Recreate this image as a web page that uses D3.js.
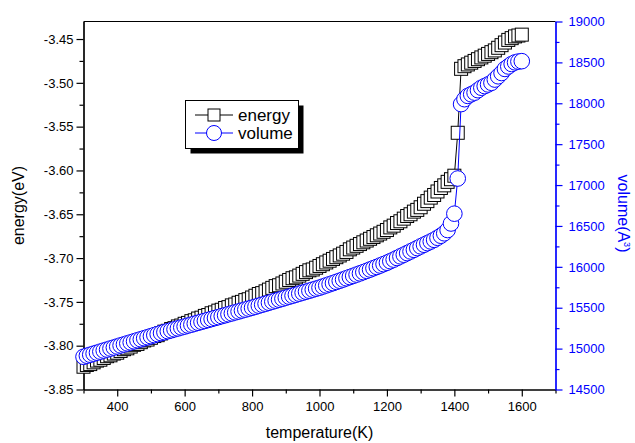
<!DOCTYPE html>
<html>
<head>
<meta charset="utf-8">
<script src="https://cdn.jsdelivr.net/npm/d3@7"></script>
<style>
  body { margin: 0; background: #fff; }
  text { font-family: "Liberation Sans", Arial, sans-serif; }
</style>
</head>
<body>
<div id="chart"></div>
<script>
// temperature (K)
var temperature = [
  300, 310, 320, 330, 340, 350, 360, 370, 380, 390,
  400, 410, 420, 430, 440, 450, 460, 470, 480, 490,
  500, 510, 520, 530, 540, 550, 560, 570, 580, 590,
  600, 610, 620, 630, 640, 650, 660, 670, 680, 690,
  700, 710, 720, 730, 740, 750, 760, 770, 780, 790,
  800, 810, 820, 830, 840, 850, 860, 870, 880, 890,
  900, 910, 920, 930, 940, 950, 960, 970, 980, 990,
  1000, 1010, 1020, 1030, 1040, 1050, 1060, 1070, 1080, 1090,
  1100, 1110, 1120, 1130, 1140, 1150, 1160, 1170, 1180, 1190,
  1200, 1210, 1220, 1230, 1240, 1250, 1260, 1270, 1280, 1290,
  1300, 1310, 1320, 1330, 1340, 1350, 1360, 1370, 1380, 1390,
  1400, 1410, 1420, 1430, 1440, 1450, 1460, 1470, 1480, 1490,
  1500, 1510, 1520, 1530, 1540, 1550, 1560, 1570, 1580, 1590,
  1600
];

// energy (eV)
var energy = [
  -3.824, -3.822, -3.821, -3.819, -3.817, -3.816, -3.814, -3.812, -3.811, -3.809,
  -3.808, -3.806, -3.804, -3.803, -3.801, -3.799, -3.798, -3.796, -3.794, -3.793,
  -3.791, -3.789, -3.788, -3.786, -3.784, -3.783, -3.781, -3.780, -3.778, -3.777,
  -3.775, -3.774, -3.772, -3.771, -3.769, -3.768, -3.766, -3.765, -3.763, -3.762,
  -3.760, -3.759, -3.757, -3.756, -3.754, -3.753, -3.751, -3.750, -3.748, -3.747,
  -3.745, -3.743, -3.741, -3.740, -3.738, -3.736, -3.734, -3.732, -3.731, -3.729,
  -3.727, -3.725, -3.723, -3.722, -3.720, -3.718, -3.716, -3.714, -3.713, -3.711,
  -3.709, -3.707, -3.705, -3.703, -3.701, -3.699, -3.697, -3.695, -3.693, -3.690,
  -3.688, -3.686, -3.684, -3.682, -3.680, -3.678, -3.676, -3.674, -3.672, -3.670,
  -3.668, -3.665, -3.663, -3.660, -3.658, -3.655, -3.652, -3.650, -3.647, -3.645,
  -3.642, -3.638, -3.635, -3.631, -3.628, -3.624, -3.620, -3.617, -3.613, -3.610,
  -3.606, -3.557, -3.484, -3.481, -3.479, -3.477, -3.475, -3.473, -3.471, -3.469,
  -3.467, -3.465, -3.463, -3.460, -3.457, -3.454, -3.451, -3.449, -3.447, -3.446,
  -3.445
];

// volume (A^3)
var volume = [
  14900, 14913, 14925, 14938, 14950, 14963, 14976, 14988, 15001, 15013,
  15026, 15039, 15051, 15064, 15076, 15089, 15102, 15114, 15127, 15139,
  15152, 15165, 15177, 15190, 15201, 15213, 15224, 15236, 15247, 15259,
  15270, 15282, 15293, 15305, 15316, 15328, 15339, 15351, 15362, 15374,
  15385, 15397, 15408, 15420, 15431, 15443, 15454, 15466, 15477, 15489,
  15500, 15512, 15525, 15537, 15549, 15561, 15574, 15586, 15598, 15610,
  15623, 15635, 15647, 15659, 15672, 15684, 15696, 15708, 15721, 15733,
  15745, 15759, 15773, 15787, 15801, 15816, 15830, 15845, 15860, 15875,
  15890, 15905, 15920, 15935, 15951, 15967, 15983, 15999, 16016, 16033,
  16050, 16069, 16088, 16108, 16128, 16148, 16168, 16188, 16208, 16229,
  16250, 16270, 16290, 16310, 16330, 16355, 16380, 16410, 16450, 16530,
  16650, 17080, 17990, 18050, 18090, 18110, 18130, 18160, 18190, 18210,
  18230, 18250, 18290, 18330, 18370, 18420, 18450, 18480, 18500, 18510,
  18515
];

var tempTicks = [400, 600, 800, 1000, 1200, 1400, 1600];
var tempMinor = [300, 500, 700, 900, 1100, 1300, 1500, 1700];
var energyTicks = [-3.85, -3.80, -3.75, -3.70, -3.65, -3.60, -3.55, -3.50, -3.45];
var energyMinor = [-3.825, -3.775, -3.725, -3.675, -3.625, -3.575, -3.525, -3.475];
var volumeTicks = [14500, 15000, 15500, 16000, 16500, 17000, 17500, 18000, 18500, 19000];
var volumeMinor = [14750, 15250, 15750, 16250, 16750, 17250, 17750, 18250, 18750];

var W = 635, H = 443;
// plot frame (pixels)
var pLeft = 83.5, pRight = 555.5, pTop = 21.5, pBottom = 389.5;
var blue = "#0000ff";

var svg = d3.select("#chart").append("svg")
  .attr("width", W)
  .attr("height", H);

var x = d3.scaleLinear().domain([300, 1700]).range([pLeft, pRight]);
var yE = d3.scaleLinear().domain([-3.85, -3.43]).range([pBottom, pTop]);
var yV = d3.scaleLinear().domain([14500, 19000]).range([pBottom, pTop]);

// top frame line
svg.append("line")
  .attr("x1", pLeft).attr("x2", pRight)
  .attr("y1", pTop).attr("y2", pTop)
  .attr("stroke", "#000").attr("stroke-width", 1.2);

// axes
function styleAxis(g, color) {
  g.selectAll("path").attr("stroke", color).attr("stroke-width", 1.2);
  g.selectAll("line").attr("stroke", color).attr("stroke-width", 1.2);
  g.selectAll("text")
    .attr("fill", color)
    .style("font-size", "13px");
}

var xAxis = svg.append("g")
  .attr("transform", "translate(0," + pBottom + ")")
  .call(d3.axisBottom(x).tickValues(tempTicks).tickSize(7).tickSizeOuter(0).tickPadding(5)
    .tickFormat(d3.format("d")));
styleAxis(xAxis, "#000");
var xMinor = svg.append("g")
  .attr("transform", "translate(0," + pBottom + ")")
  .call(d3.axisBottom(x).tickValues(tempMinor).tickSize(4).tickSizeOuter(0).tickFormat(""));
styleAxis(xMinor, "#000");

var yAxis = svg.append("g")
  .attr("transform", "translate(" + pLeft + ",0)")
  .call(d3.axisLeft(yE).tickValues(energyTicks).tickSize(7).tickSizeOuter(0).tickPadding(3)
    .tickFormat(function(d) { return d.toFixed(2); }));
styleAxis(yAxis, "#000");
var yMinor = svg.append("g")
  .attr("transform", "translate(" + pLeft + ",0)")
  .call(d3.axisLeft(yE).tickValues(energyMinor).tickSize(4).tickSizeOuter(0).tickFormat(""));
styleAxis(yMinor, "#000");

var y2Axis = svg.append("g")
  .attr("transform", "translate(" + pRight + ",0)")
  .call(d3.axisRight(yV).tickValues(volumeTicks).tickSize(7).tickSizeOuter(0).tickPadding(6)
    .tickFormat(d3.format("d")));
styleAxis(y2Axis, blue);
var y2Minor = svg.append("g")
  .attr("transform", "translate(" + pRight + ",0)")
  .call(d3.axisRight(yV).tickValues(volumeMinor).tickSize(4).tickSizeOuter(0).tickFormat(""));
styleAxis(y2Minor, blue);

// axis titles
svg.append("text")
  .attr("x", (pLeft + pRight) / 2)
  .attr("y", 438)
  .attr("text-anchor", "middle")
  .style("font-size", "16px")
  .text("temperature(K)");

svg.append("text")
  .attr("transform", "translate(24," + ((pTop + pBottom) / 2) + ") rotate(-90)")
  .attr("text-anchor", "middle")
  .style("font-size", "16px")
  .text("energy(eV)");

var vt = svg.append("text")
  .attr("transform", "translate(618," + ((pTop + pBottom) / 2 + 8) + ") rotate(90)")
  .attr("text-anchor", "middle")
  .attr("fill", blue)
  .style("font-size", "16px");
vt.append("tspan").text("volume(A");
vt.append("tspan").attr("dy", -6).style("font-size", "9px").text("3");
vt.append("tspan").attr("dy", 6).text(")");

var pts = temperature.map(function(t, i) {
  return { t: t, e: energy[i], v: volume[i] };
});

// energy series
svg.append("path")
  .datum(pts)
  .attr("fill", "none")
  .attr("stroke", "#000")
  .attr("stroke-width", 1)
  .attr("d", d3.line().x(function(d) { return x(d.t); }).y(function(d) { return yE(d.e); }));

var sq = 13;
svg.append("g").selectAll("rect")
  .data(pts)
  .enter()
  .append("rect")
  .attr("x", function(d) { return x(d.t) - sq / 2; })
  .attr("y", function(d) { return yE(d.e) - sq / 2; })
  .attr("width", sq)
  .attr("height", sq)
  .attr("fill", "#fff")
  .attr("stroke", "#000")
  .attr("stroke-width", 1);

// volume series
svg.append("path")
  .datum(pts)
  .attr("fill", "none")
  .attr("stroke", blue)
  .attr("stroke-width", 1)
  .attr("d", d3.line().x(function(d) { return x(d.t); }).y(function(d) { return yV(d.v); }));

svg.append("g").selectAll("circle")
  .data(pts)
  .enter()
  .append("circle")
  .attr("cx", function(d) { return x(d.t); })
  .attr("cy", function(d) { return yV(d.v); })
  .attr("r", 7.8)
  .attr("fill", "#fff")
  .attr("stroke", blue)
  .attr("stroke-width", 1);

// legend
var lg = svg.append("g");
lg.append("rect")
  .attr("x", 190.5).attr("y", 105.5)
  .attr("width", 113).attr("height", 48)
  .attr("fill", "#000");
lg.append("rect")
  .attr("x", 185.5).attr("y", 100.5)
  .attr("width", 113).attr("height", 48)
  .attr("fill", "#fff")
  .attr("stroke", "#000")
  .attr("stroke-width", 1);

var legendItems = [
  { name: "energy", color: "#000", shape: "square", y: 115 },
  { name: "volume", color: blue, shape: "circle", y: 133 }
];
legendItems.forEach(function(it) {
  lg.append("line")
    .attr("x1", 195).attr("x2", 233)
    .attr("y1", it.y).attr("y2", it.y)
    .attr("stroke", it.color).attr("stroke-width", 1);
  if (it.shape === "square") {
    lg.append("rect")
      .attr("x", 214 - 6).attr("y", it.y - 6)
      .attr("width", 12).attr("height", 12)
      .attr("fill", "#fff").attr("stroke", it.color);
  } else {
    lg.append("circle")
      .attr("cx", 214).attr("cy", it.y).attr("r", 7.5)
      .attr("fill", "#fff").attr("stroke", it.color);
  }
  lg.append("text")
    .attr("x", 238)
    .attr("y", it.y + 6)
    .style("font-size", "17px")
    .text(it.name);
});
</script>
</body>
</html>
